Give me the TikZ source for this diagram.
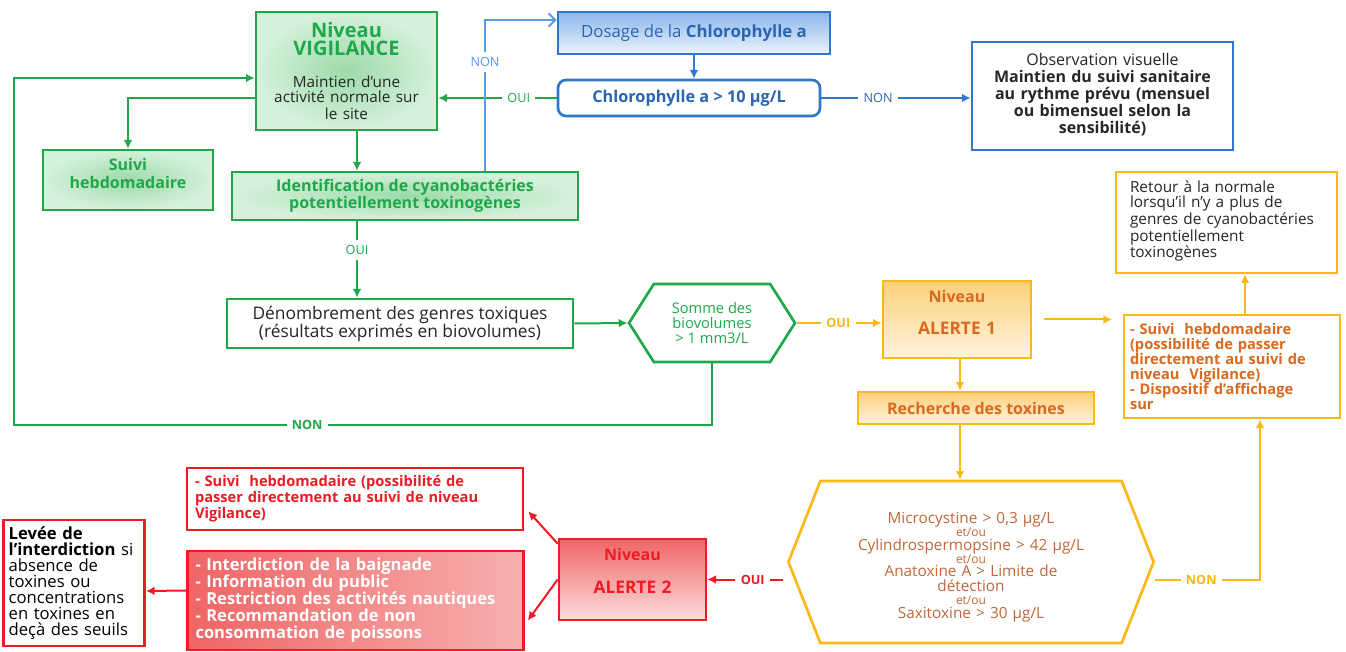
\documentclass[tikz,border=0pt]{standalone}
\usepackage{fontspec}
\setmainfont{Open Sans}
\usetikzlibrary{arrows.meta, shapes.symbols, calc}
\definecolor{cgreen}{HTML}{1FA84A}
\definecolor{cgreenin}{HTML}{9CDAAA}
\definecolor{cgreenout}{HTML}{D6F1DB}
\definecolor{cblue}{HTML}{2E77C9}
\definecolor{cbluelt}{HTML}{5A9BE2}
\definecolor{cbluetxt}{HTML}{2966B2}
\definecolor{cbluetop}{HTML}{8AB6EB}
\definecolor{cbluebot}{HTML}{EDF4FC}
\definecolor{cgold}{HTML}{FBB817}
\definecolor{corange}{HTML}{D9691E}
\definecolor{ctox}{HTML}{C2683A}
\definecolor{cgoldtop}{HTML}{FCD07A}
\definecolor{cgoldbot}{HTML}{FFF4DE}
\definecolor{cred}{HTML}{EE1B24}
\definecolor{credtop}{HTML}{F06565}
\definecolor{credbot}{HTML}{FCDCDC}
\definecolor{credpink}{HTML}{F7B0B0}
\definecolor{cdark}{HTML}{262626}
\tikzset{
  every picture/.style={line width=1.5pt},
  box/.style={draw=#1, fill=white, align=center, inner sep=3pt, line width=2pt},
  box/.default=cgreen,
  gbox/.style={box=cgreen, inner color=cgreenin, outer color=cgreenout, text=cgreen, font=\bfseries\fontsize{12}{12.75}\selectfont},
  obox/.style={box=cgold, top color=cgoldtop, bottom color=cgoldbot, text=corange, font=\bfseries\fontsize{12}{13}\selectfont},
  rbox/.style={box=cred, top color=credtop, bottom color=credbot, text=cred, font=\bfseries\fontsize{12}{13}\selectfont},
  hexa/.style={signal, signal to=east and west, signal pointer angle=#1},
  garrow/.style={draw=cgreen, -{Latex[length=6.5pt, width=6.5pt]}},
  barrow/.style={draw=cblue, -{Latex[length=6.5pt, width=6.5pt]}},
  oarrow/.style={draw=cgold, -{Latex[length=6.5pt, width=6.5pt]}},
  rarrow/.style={draw=cred, -{Latex[length=6.5pt, width=6.5pt]}},
  lbl/.style={fill=white, inner sep=4pt, font=\fontsize{9.5}{10}\selectfont},
}
\newcommand\etou{{\fontsize{9}{8}\selectfont et/ou}}
\begin{document}
\begin{tikzpicture}[x=0.75pt, y=-0.75pt]
  \useasboundingbox (0,0) rectangle (1346,652);
  % niveau vigilance
  \node[gbox, text width=128pt, minimum width=135.75pt, minimum height=88.5pt] (vig) at (346.5,71)
    {{\fontsize{15}{14}\selectfont Niveau\\[1pt]VIGILANCE}\\[13pt]{\mdseries\color{cdark}\fontsize{11.5}{11.25}\selectfont Maintien d’une\\activité normale sur\\le site}};
  \node[gbox, text width=120pt, font=\bfseries\fontsize{12}{14}\selectfont, minimum width=127.5pt, minimum height=45pt] (suivi) at (128,180) {Suivi\\hebdomadaire\\[-4pt]\mbox{}};
  \node[gbox, minimum width=259.5pt, minimum height=36pt] (ident) at (405,196) {Identification de cyanobactéries\\potentiellement toxinogènes};
  \node[box, text=cdark, font=\fontsize{13}{13.5}\selectfont, minimum width=259.5pt, minimum height=36.75pt] (denomb) at (400,323.5)
    {Dénombrement des genres toxiques\\(résultats exprimés en biovolumes)};
  \node[box, hexa=115, text=cgreen, font=\fontsize{11}{11.6}\selectfont, minimum width=124.5pt, minimum height=58.5pt] (somme) at (712,323)
    {Somme des\\biovolumes\\> 1 mm3/L};
  % chlorophylle
  \node[box=cblue, top color=cbluetop, bottom color=cbluebot, text=cbluetxt, font=\fontsize{12.6}{14}\selectfont, minimum width=204pt, minimum height=31.5pt] (dosage) at (694,33)
    {Dosage de la \textbf{Chlorophylle a}};
  \node[box=cblue, rounded corners=6pt, text=cbluetxt, font=\bfseries\fontsize{12.2}{13}\selectfont, minimum width=196.5pt, minimum height=27pt] (chloro) at (689,98)
    {Chlorophylle a > 10 µg/L};
  \node[box=cblue, text=cdark, text width=188pt, font=\fontsize{12}{12.75}\selectfont, minimum width=195.75pt, minimum height=81pt] (obs) at (1102.5,96)
    {Observation visuelle\\\textbf{Maintien du suivi sanitaire}\\\textbf{au rythme prévu (mensuel}\\\textbf{ou bimensuel selon la}\\\textbf{sensibilité)}\\[-8.25pt]\mbox{}};
  % niveau alerte 1
  \node[obox, text width=104pt, minimum width=111pt, minimum height=57.75pt] (alerte1) at (957,319.5)
    {Niveau\\[11pt]{\fontsize{13}{13}\selectfont ALERTE 1}\\[-2.5pt]\mbox{}};
  \node[obox, minimum width=177pt, minimum height=24pt] (recherche) at (976,408) {Recherche des toxines};
  \node[box=cgold, text=corange, align=left, text width=153pt, inner xsep=4.5pt, font=\bfseries\fontsize{11}{11.25}\selectfont, minimum height=77.25pt] (suivi1) at (1232,366.5)
    {- Suivi\ \ hebdomadaire\\(possibilité de passer\\directement au suivi de\\niveau\ \ Vigilance)\\- Dispositif d’affichage\\sur};
  \node[box=cgold, text=cdark, align=left, text width=144.75pt, inner xsep=10.5pt, font=\fontsize{11.5}{11.25}\selectfont, minimum height=75.75pt] (retour) at (1226.5,222.5)
    {Retour à la normale\\lorsqu’il n’y a plus de\\genres de cyanobactéries\\potentiellement\\toxinogènes\\[-6.75pt]\mbox{}};
  \node[box=cgold, hexa=137, text=ctox, text width=220pt, font=\fontsize{11.5}{9.9}\selectfont, minimum width=271.5pt, minimum height=121.5pt] (toxhex) at (971,562)
    {\rule{0pt}{16pt}Microcystine > 0,3 µg/L\\\etou\\Cylindrospermopsine > 42 µg/L\\\etou\\Anatoxine A > Limite de\\[1.5pt]détection\\\etou\\Saxitoxine > 30 µg/L};
  % niveau alerte 2
  \node[rbox, text width=100pt, minimum width=110.25pt, minimum height=60.75pt] (alerte2) at (632.5,579.5)
    {Niveau\\[12pt]{\fontsize{13}{13}\selectfont ALERTE 2}\\[0pt]\mbox{}};
  \node[box=cred, text=cred, align=left, text width=240pt, inner xsep=6pt, font=\bfseries\fontsize{11}{12}\selectfont, minimum height=46.5pt] (rouge1) at (355,499)
    {- Suivi\ \ hebdomadaire (possibilité de\\passer directement au suivi de niveau\\Vigilance)};
  \node[box=cred, left color=credtop, right color=credpink, text=white, align=left, text width=240pt, inner xsep=6pt, font=\bfseries\fontsize{12.4}{12.75}\selectfont, minimum height=74.25pt] (rouge2) at (355.5,600.5)
    {- Interdiction de la baignade\\- Information du public\\- Restriction des activités nautiques\\- Recommandation de non\\consommation de poissons};
  \node[box=cred, text=black, align=left, text width=98pt, inner xsep=4pt, font=\fontsize{12.5}{12}\selectfont, minimum height=94.5pt] (levee) at (74,583)
    {\textbf{Levée de}\\\textbf{l’interdiction} si\\absence de\\toxines ou\\concentrations\\en toxines en\\deçà des seuils};
  % connectors
  \coordinate (axisA) at (357,0);
  \coordinate (axisB) at (960,0);
  \coordinate (axisC) at (1260,0);
  \coordinate (axisD) at (1245,0);
  \coordinate (nonx) at (485,20);
  \coordinate (loopc) at (14,425);
  \coordinate (loopin) at (14,78);
  \draw[garrow] (chloro.west) -- node[lbl, text=cgreen, pos=0.32]{OUI} (chloro.west -| vig.east);
  \draw[draw=cbluelt, -{Straight Barb[length=5pt, width=10pt]}] (ident.north -| nonx) |- node[lbl, text=cbluelt, pos=0.36]{NON} (dosage.west |- nonx);
  \draw[barrow] (dosage.south) -- (dosage.south |- chloro.north);
  \draw[barrow] (chloro.east) -- node[lbl, text=cbluetxt, pos=0.38]{NON} (chloro.east -| obs.west);
  \draw[garrow] (vig.west |- chloro.west) -| (suivi.north);
  \draw[garrow] (vig.south -| axisA) -- (ident.north -| axisA);
  \draw[garrow] (ident.south -| axisA) -- node[lbl, text=cgreen, pos=0.38]{OUI} (denomb.north -| axisA);
  \draw[garrow] (denomb.east) -- (somme.west);
  \draw[garrow] (somme.south) |- node[lbl, text=cgreen, font=\bfseries\fontsize{9.5}{10}\selectfont, pos=0.79]{NON} (loopc) |- (vig.west |- loopin);
  \draw[oarrow] (somme.east) -- node[lbl, text=cgold, font=\bfseries\fontsize{9.5}{10}\selectfont, pos=0.49]{OUI} (somme.east -| alerte1.west);
  \draw[oarrow, shorten <=9pt, shorten >=8pt] (alerte1.east) -- (alerte1.east -| suivi1.west);
  \draw[oarrow] (suivi1.north -| axisD) -- (retour.south -| axisD);
  \foreach \f/\t in {alerte1/recherche, recherche/toxhex}
    \draw[oarrow] (\f.south -| axisB) -- (\t.north -| axisB);
  \draw[rarrow, shorten <=3pt] (toxhex.west |- alerte2.east) -- node[lbl, text=cred, font=\bfseries\fontsize{9.5}{10}\selectfont, pos=0.43]{OUI} (alerte2.east);
  \draw[oarrow] (toxhex.east |- alerte2.east) -| node[lbl, text=cgold, font=\bfseries\fontsize{9.5}{10}\selectfont, pos=0.22]{NON} (suivi1.south -| axisC);
  \draw[rarrow] ($(alerte2.north west)+(0,6)$) -- ($(rouge1.south east)+(4,-20)$);
  \draw[rarrow] (alerte2.west) -- ($(rouge2.east)+(3,20)$);
  \draw[rarrow] ($(rouge2.west)+(0,-10)$) -- ($(levee.east)+(0,8)$);
\end{tikzpicture}
\end{document}
